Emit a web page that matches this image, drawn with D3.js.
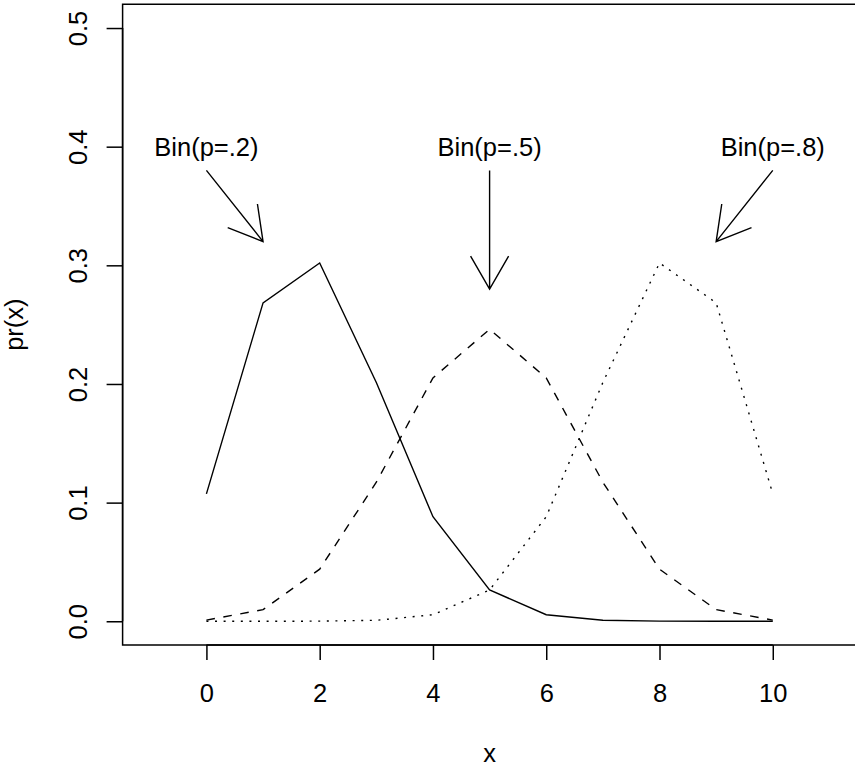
<!DOCTYPE html>
<html>
<head>
<meta charset="utf-8">
<script src="https://cdn.jsdelivr.net/npm/d3@7"></script>
<style>
  html, body { margin: 0; background: #fff; overflow: hidden; }
  svg { display: block; }
  text { font-family: "Liberation Sans", Arial, sans-serif; fill: #000; }
</style>
</head>
<body>
<script>
// valores (binomial n=10)
const xs = [0, 1, 2, 3, 4, 5, 6, 7, 8, 9, 10];
const p02 = [0.1074, 0.2684, 0.3020, 0.2013, 0.0881, 0.0264, 0.0055, 0.0008, 0.0001, 0.0000, 0.0000];
const p05 = [0.0010, 0.0098, 0.0439, 0.1172, 0.2051, 0.2461, 0.2051, 0.1172, 0.0439, 0.0098, 0.0010];
const p08 = [0.0000, 0.0000, 0.0001, 0.0008, 0.0055, 0.0264, 0.0881, 0.2013, 0.3020, 0.2684, 0.1074];
const xTicks = [0, 2, 4, 6, 8, 10];
const yTicks = [0.0, 0.1, 0.2, 0.3, 0.4, 0.5];
const rotulos = ["Bin(p=.2)", "Bin(p=.5)", "Bin(p=.8)"];
const rotuloPos = [[0, 0.4], [5, 0.4], [10, 0.4]];
const setas = [[0, 0.38, 1, 0.32], [5, 0.38, 5, 0.28], [10, 0.38, 9, 0.32]];

const largura = 855, altura = 768;
const fonte = 25.5;

const svg = d3.select("body").append("svg")
  .attr("width", largura)
  .attr("height", altura);

// escalas (limites com extensao de 4% como no R)
const x = d3.scaleLinear().domain([-1.48, 11.48]).range([122.6, 856.6]);
const y = d3.scaleLinear().domain([-0.02, 0.52]).range([645, 4.3]);

// caixa do grafico (lado direito fica fora da imagem)
svg.append("path")
  .attr("d", `M${largura + 5},${y(0.52)}H${x(-1.48)}V${y(-0.02)}H${largura + 5}`)
  .attr("fill", "none").attr("stroke", "#000").attr("stroke-width", 1.5);

// eixo x
const eixoX = svg.append("g").attr("transform", `translate(0,${y(-0.02)})`)
  .call(d3.axisBottom(x).tickValues(xTicks).tickSize(15).tickPadding(10).tickFormat(d3.format("d")));
eixoX.select(".domain")
  .attr("d", `M${x(0)},0H${x(10)}`).attr("stroke-width", 1.5);
eixoX.selectAll(".tick line").attr("stroke-width", 1.5);
eixoX.selectAll(".tick text")
  .attr("font-size", fonte).attr("font-family", "Liberation Sans, Arial, sans-serif")
  .attr("dy", null).attr("y", 57);

// eixo y
const eixoY = svg.append("g").attr("transform", `translate(${x(-1.48)},0)`)
  .call(d3.axisLeft(y).tickValues(yTicks).tickSize(16).tickFormat(d3.format(".1f")));
eixoY.select(".domain")
  .attr("d", `M0,${y(0)}V${y(0.5)}`).attr("stroke-width", 1.5);
eixoY.selectAll(".tick line").attr("stroke-width", 1.5);
eixoY.selectAll(".tick text")
  .attr("font-size", fonte).attr("font-family", "Liberation Sans, Arial, sans-serif")
  .attr("x", null).attr("dy", null)
  .attr("text-anchor", "middle")
  .attr("transform", "translate(-36,0) rotate(-90)");

// titulos dos eixos
svg.append("text")
  .attr("x", x(5)).attr("y", 762)
  .attr("text-anchor", "middle").attr("font-size", fonte)
  .text("x");
svg.append("text")
  .attr("transform", `translate(23,${(y(-0.02) + y(0.52)) / 2}) rotate(-90)`)
  .attr("text-anchor", "middle").attr("font-size", fonte)
  .text("pr(x)");

// linhas das distribuicoes
const linha = d3.line().x((d, i) => x(xs[i])).y(d => y(d));
const series = [
  { valores: p02, traco: null },
  { valores: p05, traco: "8.6,8.6" },
  { valores: p08, traco: "2,6.6" }
];
series.forEach(s => {
  svg.append("path")
    .datum(s.valores)
    .attr("d", linha)
    .attr("fill", "none")
    .attr("stroke", "#000")
    .attr("stroke-width", 1.4)
    .attr("stroke-dasharray", s.traco);
});

// textos e setas
rotulos.forEach((r, i) => {
  svg.append("text")
    .attr("x", x(rotuloPos[i][0]))
    .attr("y", y(rotuloPos[i][1]))
    .attr("dy", "0.36em")
    .attr("text-anchor", "middle")
    .attr("font-size", fonte)
    .text(r);
});

const cabeca = 38, angulo = Math.PI / 6;
setas.forEach(s => {
  const x0 = x(s[0]), y0 = y(s[1]), x1 = x(s[2]), y1 = y(s[3]);
  const a = Math.atan2(y1 - y0, x1 - x0);
  const p1 = [x1 - cabeca * Math.cos(a - angulo), y1 - cabeca * Math.sin(a - angulo)];
  const p2 = [x1 - cabeca * Math.cos(a + angulo), y1 - cabeca * Math.sin(a + angulo)];
  svg.append("path")
    .attr("d", `M${x0},${y0}L${x1},${y1}M${p1[0]},${p1[1]}L${x1},${y1}L${p2[0]},${p2[1]}`)
    .attr("fill", "none")
    .attr("stroke", "#000")
    .attr("stroke-width", 1.4);
});
</script>
</body>
</html>
